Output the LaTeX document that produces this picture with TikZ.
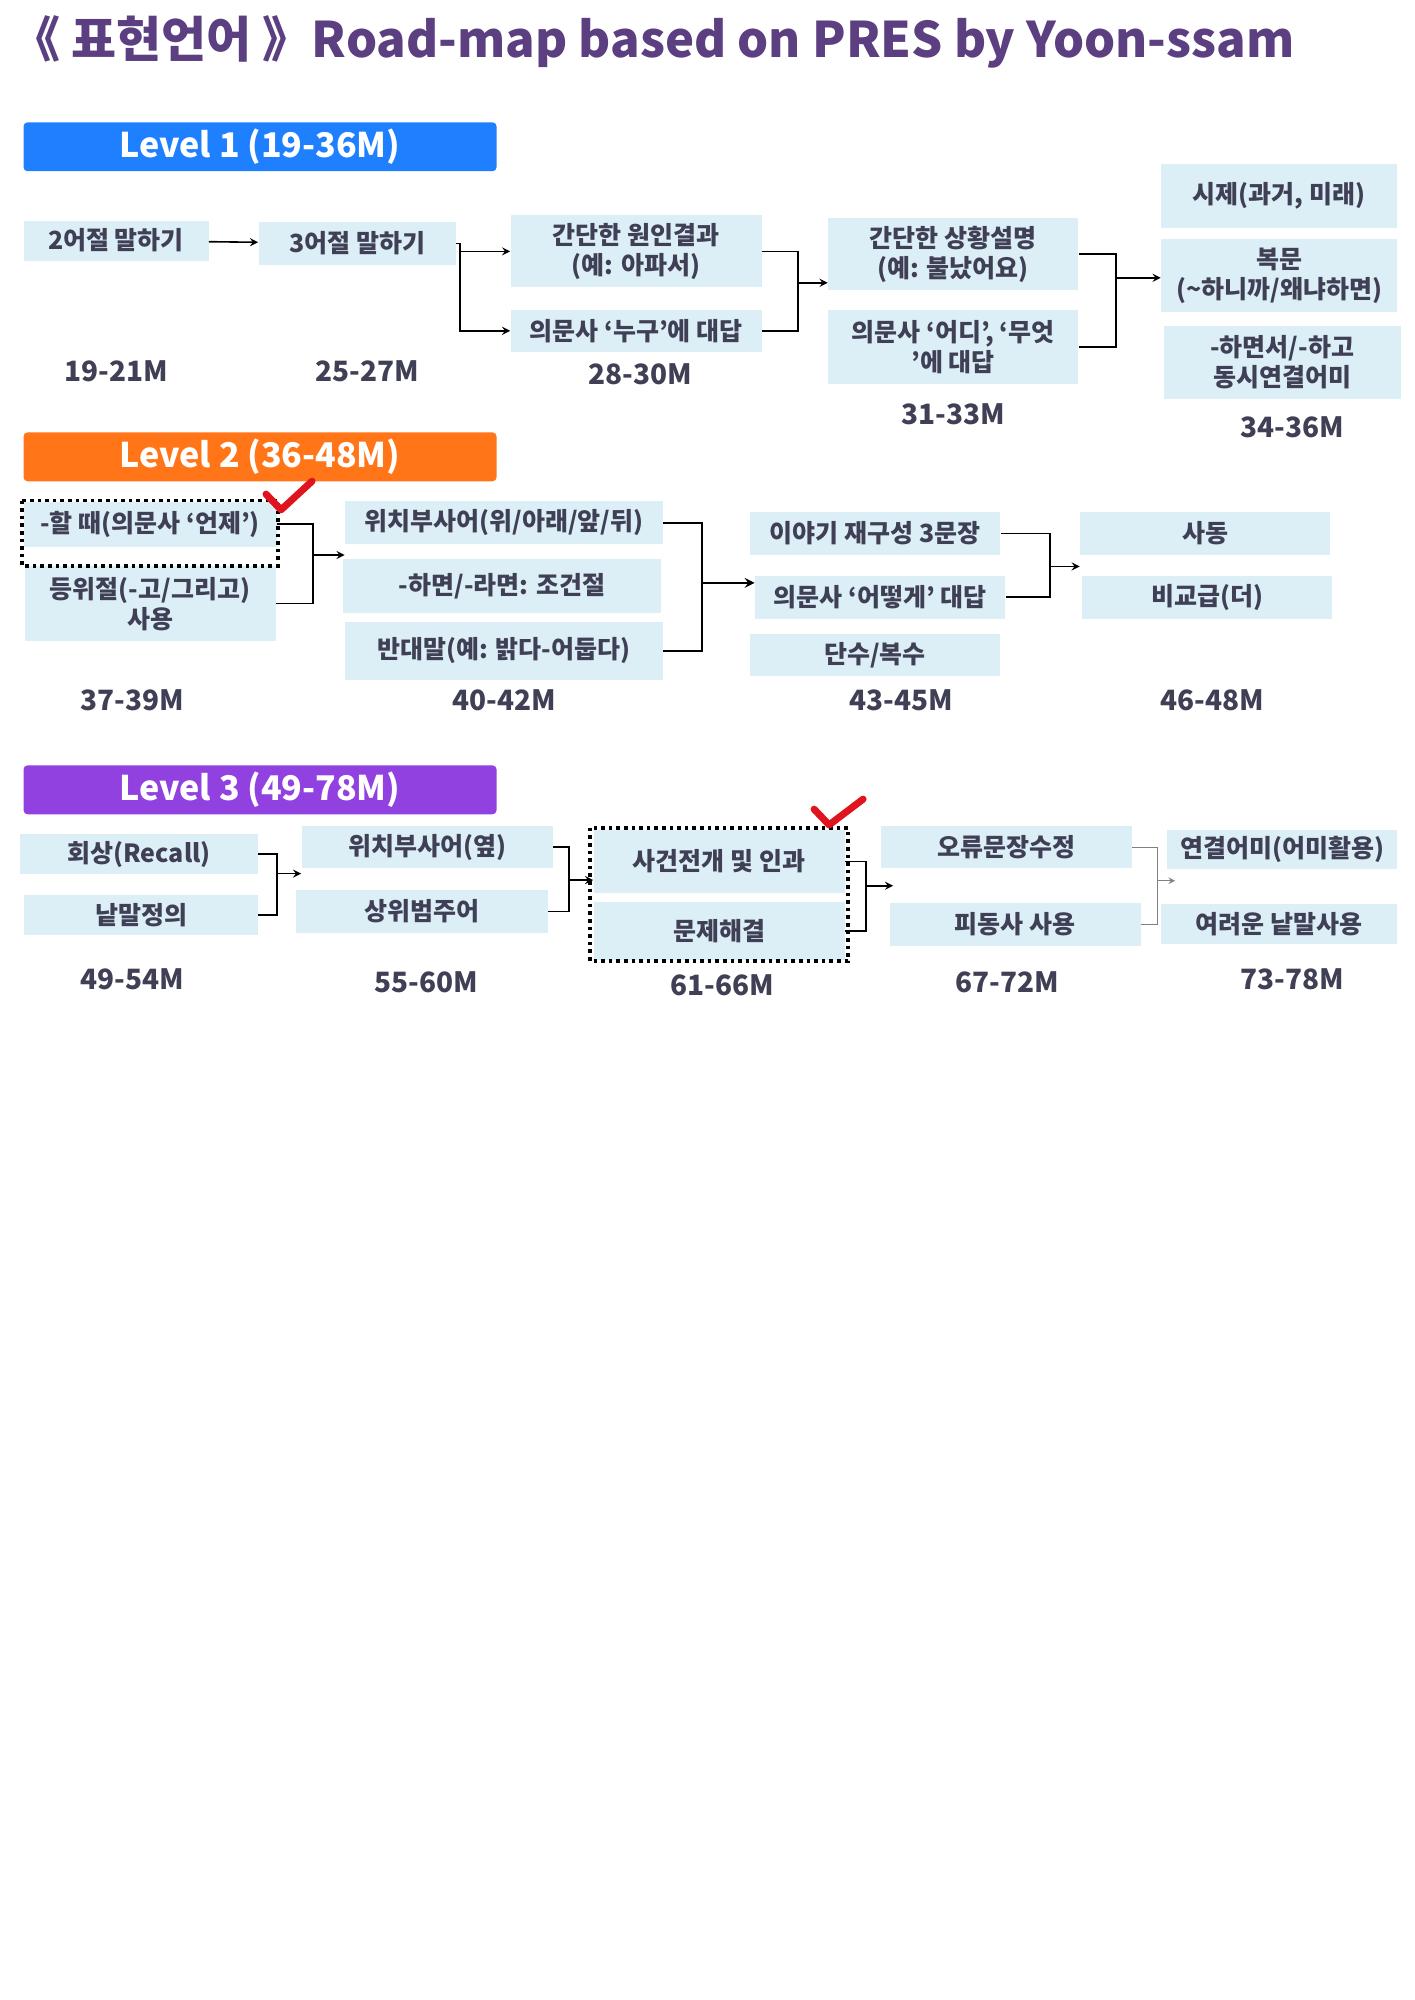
\documentclass[tikz,border=0pt]{standalone}
\usepackage{fontspec}
\setmainfont{Noto Sans CJK KR}
\usetikzlibrary{calc}
\definecolor{boxblue}{HTML}{DDEFF6}
\definecolor{txtgray}{HTML}{3F3F55}
\definecolor{titlepurple}{HTML}{5B3F80}
\definecolor{lvone}{HTML}{1E7FFF}
\definecolor{lvtwo}{HTML}{FF7518}
\definecolor{lvthree}{HTML}{9141E0}
\definecolor{checkred}{HTML}{E0141E}
\tikzset{
  box/.style={fill=boxblue, text=txtgray, font=\bfseries\fontsize{12.5}{15}\selectfont,
    align=center, inner sep=0pt},
  age/.style={text=txtgray, font=\bfseries\fontsize{14}{16}\selectfont},
  level/.style={text=white, font=\bfseries\fontsize{17}{20}\selectfont,
    minimum width=236.5pt, minimum height=23.6pt, rounded corners=2pt},
  link/.style={line width=0.8pt},
  arr/.style={link, -stealth},
  frame/.style={dotted, line width=1.8pt},
  check/.style={checkred, line width=3.5pt, line cap=round, line join=round}
}
\begin{document}
\begin{tikzpicture}[x=0.5pt,y=-0.358pt]
    \useasboundingbox (0,0) rectangle (1414,2793);
    % Title
    \node [anchor=west, text=titlepurple, font=\bfseries\fontsize{24.5}{28}\selectfont] (title) at (4,58)
      {《 표현언어 》Road-map based on PRES by Yoon-ssam};

    % Level 1
    \node [level, fill=lvone] (lv1) at (260,205) {Level 1 (19-36M)};
    \node [box, minimum width=92.5pt, minimum height=20pt] (a1) at (116,336) {2어절 말하기};
    \node [box, minimum width=98.5pt, minimum height=21.5pt] (a2) at (357,340) {3어절 말하기};
    \node [box, minimum width=125.5pt, minimum height=36pt] (a3) at (636,351) {간단한 원인결과\\(예: 아파서)};
    \node [box, minimum width=125.5pt, minimum height=21pt] (a4) at (636,462) {의문사 ‘누구’에 대답};
    \node [box, minimum width=125pt, minimum height=36pt] (a5) at (953,355) {간단한 상황설명\\(예: 불났어요)};
    \node [box, minimum width=125pt, minimum height=37pt] (a6) at (953,485) {의문사 ‘어디’, ‘무엇\\’에 대답};
    \node [box, minimum width=118pt, minimum height=32pt] (a7) at (1279,274) {시제(과거, 미래)};
    \node [box, minimum width=118pt, minimum height=36.5pt] (a8) at (1279,385) {복문\\(\textasciitilde 하니까/왜냐하면)};
    \node [box, minimum width=118.5pt, minimum height=36.5pt] (a9) at (1282,506) {-하면서/-하고\\동시연결어미};
    \node [age] (t1) at (116,519) {19-21M};
    \node [age] (t2) at (367,519) {25-27M};
    \node [age] (t3) at (640,523) {28-30M};
    \node [age] (t4) at (953,578) {31-33M};
    \node [age] (t5) at (1292,596) {34-36M};

    \coordinate (j1) at (460,340);
    \coordinate (j2) at (798,395);
    \coordinate (j3) at (1116,388);
    \draw [arr] (a1) -- (a2);
    \draw [link] (a2.east) -- (j1);
    \draw [arr] (j1) |- (a3.west);
    \draw [arr] (j1) |- (a4.west);
    \draw [link] (a3.east) -| (j2) |- (a4.east);
    \draw [arr] (j2) -- (j2 -| a5.west);
    \draw [link] (a5.east) -| (j3) |- (a6.east);
    \draw [arr] (j3) -- (j3 -| a8.west);

    % Level 2
    \node [level, fill=lvtwo] (lv2) at (260,638) {Level 2 (36-48M)};
    \node [box, minimum width=126.5pt, minimum height=22.5pt] (b1) at (150,732) {-할 때(의문사 ‘언제’)};
    \node [box, minimum width=125.5pt, minimum height=37.5pt] (b2) at (150,843) {등위절(-고/그리고)\\사용};
    \node [box, minimum width=159pt, minimum height=21.5pt] (b3) at (504,730) {위치부사어(위/아래/앞/뒤)};
    \node [box, minimum width=159pt, minimum height=27pt] (b4) at (502,818) {-하면/-라면: 조건절};
    \node [box, minimum width=159pt, minimum height=29pt] (b5) at (504,909) {반대말(예: 밝다-어둡다)};
    \node [box, minimum width=125pt, minimum height=21.5pt] (b6) at (875,745) {이야기 재구성 3문장};
    \node [box, minimum width=125pt, minimum height=21.5pt] (b7) at (880,834) {의문사 ‘어떻게’ 대답};
    \node [box, minimum width=125pt, minimum height=21pt] (b8) at (875,915) {단수/복수};
    \node [box, minimum width=125pt, minimum height=21.5pt] (b9) at (1205,745) {사동};
    \node [box, minimum width=125pt, minimum height=21.5pt] (b10) at (1207,834) {비교급(더)};
    \node [age] (t6) at (132,978) {37-39M};
    \node [age] (t7) at (504,978) {40-42M};
    \node [age] (t8) at (901,978) {43-45M};
    \node [age] (t9) at (1212,978) {46-48M};
    \draw [frame] (22,699) rectangle (278,790);
    \draw [check] (266,690) -- (281,712) -- (312,672);

    \coordinate (k1) at (313,775);
    \coordinate (k2) at (702,814);
    \coordinate (k3) at (1050,791);
    \draw [link] (b1.east) -| (k1) |- (b2.east);
    \draw [arr] (k1) -- (k1 -| b3.west);
    \draw [link] (b3.east) -| (k2) |- (b5.east);
    \draw [arr, line width=1.2pt] (k2) -- (k2 -| b7.west);
    \draw [link] (b6.east) -| (k3) |- (b7.east);
    \draw [arr] (k3) -- (k3 -| b9.west);

    % Level 3
    \node [level, fill=lvthree] (lv3) at (260,1103) {Level 3 (49-78M)};
    \node [box, minimum width=119pt, minimum height=20pt] (c1) at (139,1193) {회상(Recall)};
    \node [box, minimum width=117pt, minimum height=19.7pt] (c2) at (141,1278) {낱말정의};
    \node [box, minimum width=125.5pt, minimum height=21pt] (c3) at (427,1183) {위치부사어(옆)};
    \node [box, minimum width=126pt, minimum height=21.5pt] (c4) at (422,1273) {상위범주어};
    \node [box, minimum width=125.5pt, minimum height=31.5pt] (c5) at (719,1203) {사건전개 및 인과};
    \node [box, minimum width=125.5pt, minimum height=28.6pt] (c6) at (719,1300) {문제해결};
    \node [box, minimum width=125.5pt, minimum height=21pt] (c7) at (1006,1183) {오류문장수정};
    \node [box, minimum width=125.5pt, minimum height=21.5pt] (c8) at (1015,1291) {피동사 사용};
    \node [box, minimum width=115pt, minimum height=19.3pt] (c9) at (1282,1186) {연결어미(어미활용)};
    \node [box, minimum width=118pt, minimum height=20pt] (c10) at (1279,1291) {여려운 낱말사용};
    \node [age] (t10) at (132,1367) {49-54M};
    \node [age] (t11) at (426,1372) {55-60M};
    \node [age] (t12) at (722,1376) {61-66M};
    \node [age] (t13) at (1007,1372) {67-72M};
    \node [age] (t14) at (1292,1367) {73-78M};
    \draw [frame] (590,1156) rectangle (848,1342);
    \draw [check] (814,1130) -- (829,1152) -- (863,1116);

    \coordinate (m1) at (277,1220);
    \coordinate (m2) at (569,1229);
    \coordinate (m3) at (866,1237);
    \coordinate (m4) at (1157,1230);
    \draw [link] (c1.east) -| (m1) |- (c2.east);
    \draw [arr] (m1) -- (m1 -| c3.west);
    \draw [link] (c3.east) -| (m2) |- (c4.east);
    \draw [arr] (m2) -- (m2 -| c5.west);
    \draw [link] (c5.east) -| (m3) |- (c6.east);
    \draw [arr] (m3) -- ($(m3)+(27,0)$);
    \draw [link, gray, line width=0.5pt] (c7.east) -| (m4) |- (c8.east);
    \draw [arr, gray, line width=0.5pt] (m4) -- ($(m4)+(18,0)$);
\end{tikzpicture}
\end{document}
